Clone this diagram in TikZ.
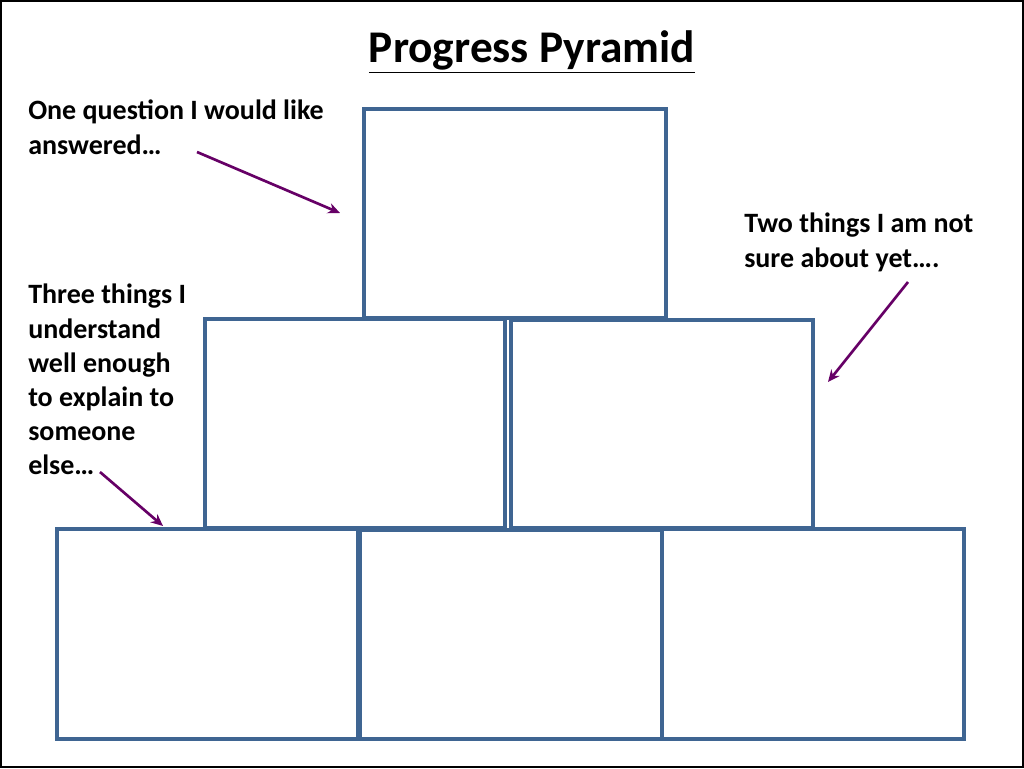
\documentclass[tikz,border=0pt]{standalone}
\usepackage{fontspec}
\setmainfont{Carlito}
\usetikzlibrary{arrows.meta}
\definecolor{boxc}{HTML}{3F6592}
\definecolor{arrc}{HTML}{660066}
\begin{document}
\begin{tikzpicture}[x=0.75pt,y=-0.75pt,
  pbox/.style={draw=boxc,line width=3pt},
  parr/.style={draw=arrc,line width=2pt,-{Stealth[length=9pt,width=8pt]}},
  lbl/.style={anchor=north west,align=left,font=\fontsize{21}{25.6}\selectfont\bfseries,inner sep=0pt}]
\draw[line width=1.5pt] (1,1) rectangle (1023,767);
\useasboundingbox (0,0) rectangle (1024,768);
\node[font=\fontsize{34}{38}\selectfont\bfseries] (t) at (532,52) {\underline{Progress Pyramid}};
\draw[pbox] (364,109) rectangle (666,318);
\draw[pbox] (205,319) rectangle (505,528);
\draw[pbox] (511,320) rectangle (813,528);
\draw[pbox] (57,529) rectangle (358,739);
\draw[pbox] (360,530) rectangle (662,739);
\draw[pbox] (662,529) rectangle (964,739);
\node[lbl] (q) at (28,100) {One question I would like\\answered…};
\node[lbl] (u) at (28,284) {Three things I\\understand\\well enough\\to explain to\\someone\\else…};
\node[lbl] (s) at (744,213) {Two things I am not\\sure about yet….};
\coordinate (a1) at (197,152); \coordinate (b1) at (340,213);
\coordinate (a2) at (908,282); \coordinate (b2) at (828,382);
\coordinate (a3) at (100,472); \coordinate (b3) at (163,526);
\draw[parr] (a1) -- (b1);
\draw[parr] (a2) -- (b2);
\draw[parr] (a3) -- (b3);
\end{tikzpicture}
\end{document}
